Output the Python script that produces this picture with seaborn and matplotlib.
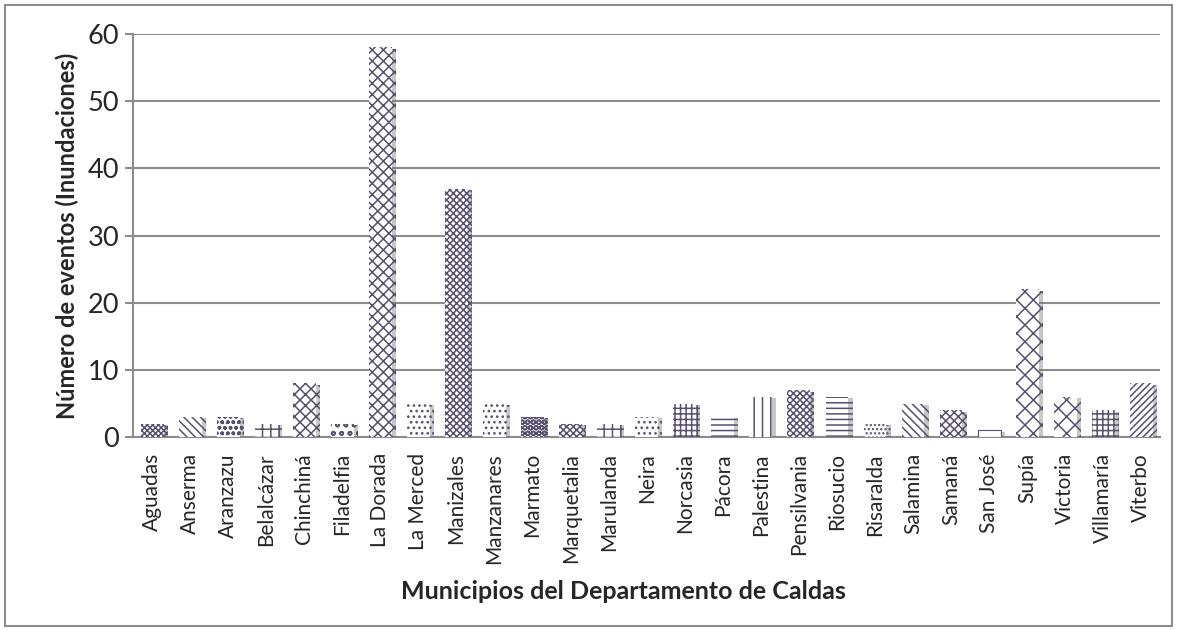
import matplotlib
matplotlib.use("Agg")
import matplotlib.pyplot as plt
import matplotlib.patheffects as pe
from matplotlib.patches import Rectangle
import seaborn as sns

municipios = ["Aguadas", "Anserma", "Aranzazu", "Belalcázar", "Chinchiná", "Filadelfia",
              "La Dorada", "La Merced", "Manizales", "Manzanares", "Marmato", "Marquetalia",
              "Marulanda", "Neira", "Norcasia", "Pácora", "Palestina", "Pensilvania",
              "Riosucio", "Risaralda", "Salamina", "Samaná", "San José", "Supía",
              "Victoria", "Villamaría", "Viterbo"]
eventos = [2, 3, 3, 2, 8, 2, 58, 5, 37, 5, 3, 2, 2, 3, 5, 3, 6, 7, 6, 2, 5, 4, 1, 22, 6, 4, 8]

# hatch pattern per bar (approximation of the Excel pattern fills)
hatches = ["xxxxxx", "\\\\\\\\", "ooo", "++", "xxx", "oo", "xxx", "...", "xxxxx", "...",
           "OOO", "xxxxx", "++", "...", "+++", "---", "||", "xxxxx", "---", "....",
           "\\\\\\\\", "xxxx", "", "xx", "xx", "+++", "/////"]

sns.set_style("white")
plt.rcParams["font.family"] = ["Lato", "DejaVu Sans"]
plt.rcParams["hatch.linewidth"] = 1.1

purple = "#575070"

fig, ax = plt.subplots(figsize=(11.78, 6.30), dpi=100)
fig.subplots_adjust(left=0.113, right=0.985, top=0.946, bottom=0.306)

sns.barplot(x=municipios, y=eventos, color="white", width=0.6, ax=ax, zorder=3)

for bar, h in zip(ax.patches, hatches):
    bar.set_facecolor("white")
    bar.set_edgecolor(purple)
    bar.set_hatch(h)
    bar.set_linewidth(0.8 if h == "" else 0)
    bar.set_path_effects([pe.SimplePatchShadow(offset=(3, -1), shadow_rgbFace="#777777", alpha=0.4),
                          pe.Normal()])

ax.set_ylim(0, 60)
ax.set_yticks(range(0, 61, 10))
ax.set_xlim(-0.5, len(municipios) - 0.5)
ax.yaxis.grid(True, color="#8c8c8c", linewidth=1.5, zorder=0)
ax.set_axisbelow(True)
for s in ["top", "right"]:
    ax.spines[s].set_visible(False)
ax.spines["left"].set_color("#8c8c8c")
ax.spines["bottom"].set_color("#8c8c8c")
ax.spines["left"].set_linewidth(1.5)
ax.spines["bottom"].set_linewidth(1.5)
ax.tick_params(axis="y", left=True, length=6, color="#8c8c8c", width=1.5, labelsize=19.5, pad=4)
ax.tick_params(axis="x", bottom=False, labelsize=15, rotation=90, pad=8)

ax.set_ylabel("Número de eventos (Inundaciones)", fontsize=17, fontweight="bold", labelpad=6)
ax.set_xlabel("Municipios del Departamento de Caldas", fontsize=18, fontweight="bold", labelpad=10)
ax.xaxis.set_label_coords(0.477, -0.355)

fig.patches.append(Rectangle((0.004, 0.006), 0.991, 0.986, transform=fig.transFigure,
                             fill=False, edgecolor="#8c8c8c", linewidth=1.5))

fig.savefig("out.png", dpi=100)
